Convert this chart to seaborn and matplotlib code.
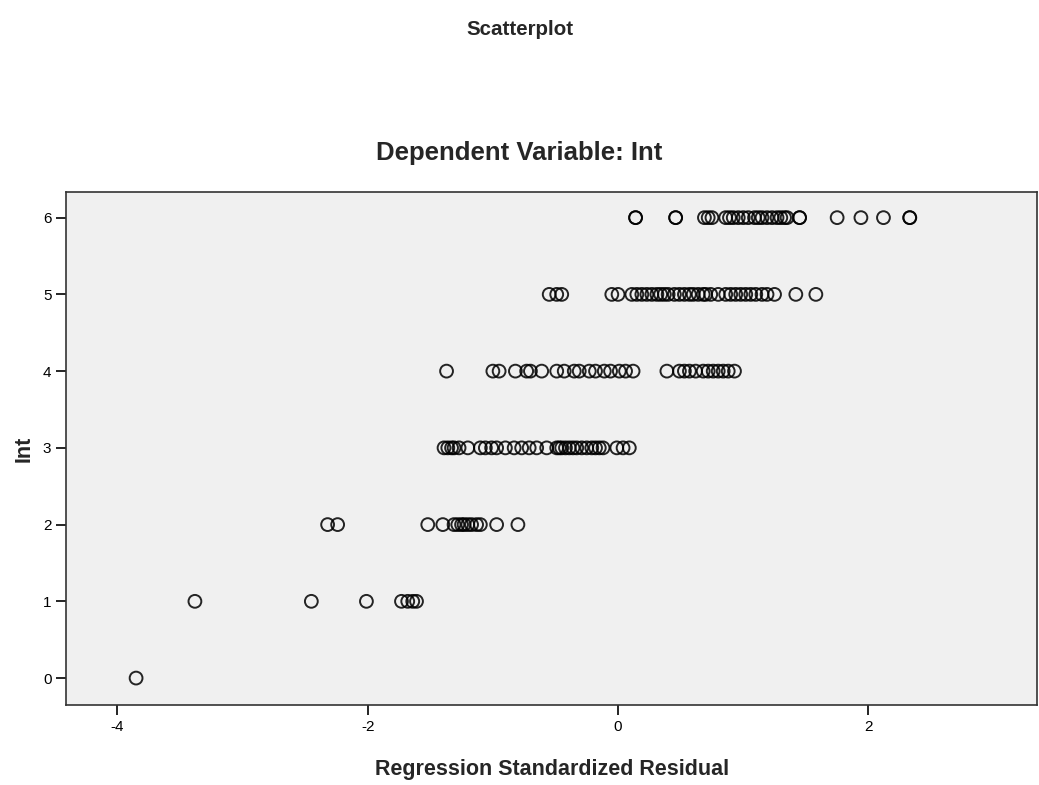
import pandas as pd
import matplotlib
matplotlib.use("Agg")
import matplotlib.pyplot as plt
import seaborn as sns

# residuals, one list per value of Int
int6 = [0.14, 0.14, 0.46, 0.46, 0.69, 0.72, 0.75, 0.86, 0.89, 0.92, 0.96, 1.0, 1.04,
        1.09, 1.12, 1.15, 1.19, 1.23, 1.27, 1.30, 1.33, 1.35, 1.45, 1.45, 1.75, 1.94,
        2.12, 2.33, 2.33]
int5 = [-0.55, -0.49, -0.45, -0.05, 0.0, 0.11, 0.15, 0.19, 0.23, 0.27, 0.31, 0.34,
        0.37, 0.40, 0.45, 0.49, 0.53, 0.57, 0.60, 0.64, 0.68, 0.70, 0.74, 0.80, 0.86,
        0.90, 0.94, 0.98, 1.02, 1.06, 1.10, 1.15, 1.19, 1.25, 1.42, 1.58]
int4 = [-1.37, -1.00, -0.95, -0.82, -0.73, -0.70, -0.61, -0.49, -0.43, -0.35, -0.31,
        -0.23, -0.18, -0.11, -0.06, 0.01, 0.06, 0.12, 0.39, 0.49, 0.53, 0.57, 0.62,
        0.68, 0.72, 0.76, 0.80, 0.84, 0.88, 0.93]
int3 = [-1.39, -1.36, -1.33, -1.31, -1.27, -1.20, -1.10, -1.06, -1.01, -0.97, -0.90,
        -0.83, -0.77, -0.71, -0.65, -0.57, -0.49, -0.47, -0.45, -0.42, -0.39, -0.36,
        -0.33, -0.29, -0.25, -0.21, -0.18, -0.15, -0.12, -0.01, 0.04, 0.09]
int2 = [-2.32, -2.24, -1.52, -1.40, -1.31, -1.28, -1.25, -1.23, -1.20, -1.17, -1.13,
        -1.10, -0.97, -0.80]
int1 = [-3.38, -2.45, -2.01, -1.73, -1.68, -1.64, -1.61]
int0 = [-3.85]

df = pd.DataFrame({
    "resid": int0 + int1 + int2 + int3 + int4 + int5 + int6,
    "Int": [0] * len(int0) + [1] * len(int1) + [2] * len(int2) + [3] * len(int3)
           + [4] * len(int4) + [5] * len(int5) + [6] * len(int6),
})

sns.set_style("white")
plt.rcParams["font.family"] = ["Liberation Sans", "DejaVu Sans"]
plt.rcParams["axes.unicode_minus"] = False

fig = plt.figure(figsize=(10.39, 7.85), dpi=100)
ax = fig.add_axes([0.0635, 0.102, 0.935, 0.653])
ax.set_facecolor("#f0f0f0")

sns.scatterplot(data=df, x="resid", y="Int", ax=ax, s=85, facecolor="none",
                edgecolor="black", linewidth=1.4, alpha=0.85)

ax.set_xlim(-4.41, 3.35)
ax.set_ylim(-0.35, 6.33)
ax.set_xticks([-4, -2, 0, 2])
ax.set_yticks(range(7))
ax.tick_params(axis="both", direction="out", length=7, width=1.2, labelsize=11,
               bottom=True, left=True, colors="black")
for sp in ax.spines.values():
    sp.set_color("#333333")
    sp.set_linewidth(1.2)

ax.set_xlabel("Regression Standardized Residual", fontsize=15.5, fontweight="bold",
              labelpad=18)
ax.set_ylabel("Int", fontsize=15.5, fontweight="bold", labelpad=6)

fig.text(0.5, 0.963, "Scatterplot", ha="center", va="center", fontsize=14.8,
         fontweight="bold")
fig.text(0.5, 0.805, "Dependent Variable: Int", ha="center", va="center",
         fontsize=18.5, fontweight="bold")

fig.savefig("out.png", dpi=100)
